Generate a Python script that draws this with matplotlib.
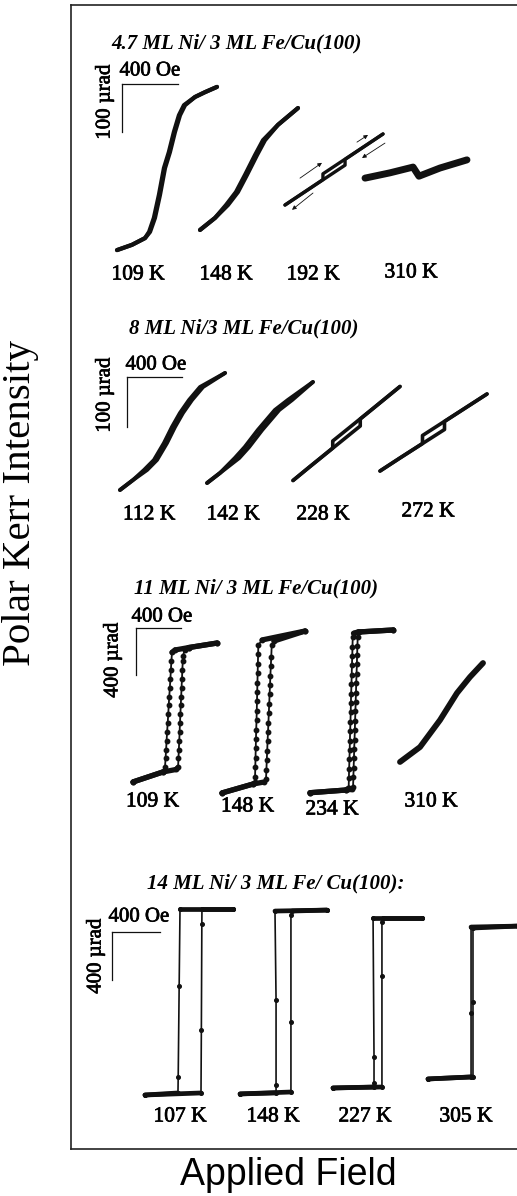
import matplotlib
matplotlib.use("Agg")
import matplotlib.pyplot as plt
import matplotlib.patheffects as pe
import numpy as np

# ------------------------------------------------------------------ data
titles = ["4.7 ML Ni/ 3 ML Fe/Cu(100)", "8 ML Ni/3 ML Fe/Cu(100)",
          "11 ML Ni/ 3 ML Fe/Cu(100)", "14 ML Ni/ 3 ML Fe/ Cu(100):"]
temps_47 = ["109 K", "148 K", "192 K", "310 K"]
temps_8 = ["112 K", "142 K", "228 K", "272 K"]
temps_11 = ["109 K", "148 K", "234 K", "310 K"]
temps_14 = ["107 K", "148 K", "227 K", "305 K"]
bar_field = [400, 400, 400, 400]      # Oe
bar_kerr = [100, 100, 400, 400]       # µrad
bar_field_lbl = ["400 Oe"] * 4
bar_kerr_lbl = ["100 µrad", "100 µrad", "400 µrad", "400 µrad"]
x_label = "Applied Field"
y_label = "Polar Kerr Intensity"

# 4.7 ML Ni  (H in Oe, Kerr in µrad; up = increasing field, dn = decreasing)
ni47_109_up_H = [-357, -250, -157, -121, -86, -50, -14, 21, 57, 93, 129, 200, 271, 357]
ni47_109_up_K = [-170, -159, -145, -132, -103, -55, 1, 34, 76, 111, 132, 149, 159, 170]
ni47_109_dn_H = [357, 271, 200, 121, 85, 49, 13, -22, -58, -94, -128, -157, -250, -357]
ni47_109_dn_K = [170, 159, 149, 132, 111, 76, 34, 1, -55, -103, -132, -145, -159, -170]
ni47_148_up_H = [-350, -243, -150, -79, -14, 57, 114, 207, 350]
ni47_148_up_K = [-127, -102, -75, -48, -12, 29, 60, 92, 127]
ni47_148_dn_H = [350, 207, 100, 43, -28, -93, -164, -243, -350]
ni47_148_dn_K = [127, 92, 60, 29, -12, -48, -75, -102, -127]
ni47_192_up_H = [-350, 79, 79, 350]
ni47_192_up_K = [-74, 9, 21, 74]
ni47_192_dn_H = [350, -79, -79, -350]
ni47_192_dn_K = [74, -9, -21, -74]
ni47_192_arrow_tail_H = [-243, -150, 164, 364]
ni47_192_arrow_tail_K = [-18, -49, 57, 55]
ni47_192_arrow_head_H = [-86, -300, 243, 200]
ni47_192_arrow_head_K = [14, -84, 72, 24]
ni47_310_H = [-364, -186, -21, 21, 171, 364]
ni47_310_K = [-19, -8, 4, -15, 2, 19]

# 8 ML Ni
ni8_112_up_H = [-382, -287, -185, -113, -40, 18, 76, 142, 222, 382]
ni8_112_up_K = [-117, -97, -77, -57, -23, 9, 37, 63, 89, 117]
ni8_112_dn_H = [382, 200, 120, 54, -4, -62, -135, -207, -287, -382]
ni8_112_dn_K = [117, 89, 63, 37, 9, -23, -57, -77, -97, -117]
ni8_142_up_H = [-385, -291, -151, -79, 16, 140, 234, 385]
ni8_142_up_K = [-101, -81, -51, -29, 5, 45, 65, 101]
ni8_142_dn_H = [385, 202, 108, -16, -111, -183, -291, -385]
ni8_142_dn_K = [101, 65, 45, 5, -29, -51, -81, -101]
ni8_228_up_H = [-389, -265, 100, 100, 193, 389]
ni8_228_up_K = [-94, -66, 15, 29, 50, 94]
ni8_228_dn_H = [389, 193, -100, -100, -265, -389]
ni8_228_dn_K = [94, 50, -15, -29, -66, -94]
ni8_272_up_H = [-389, -244, 80, 80, 389]
ni8_272_up_K = [-77, -51, 6, 22, 77]
ni8_272_dn_H = [389, -80, -80, -244, -389]
ni8_272_dn_K = [77, -6, -22, -51, -77]

# 11 ML Ni
ni11_109_up_H = [-373, -107, 9, 27, 31, 34, 38, 41, 44, 48, 51, 55, 58, 62, 65, 69, 71, 89, 124, 373]
ni11_109_up_K = [-591, -506, -485, -468, -390, -315, -240, -165, -90, -15, 60, 135, 210, 285, 360, 435, 485, 536, 553, 591]
ni11_109_dn_H = [373, 124, 0, -27, -32, -37, -41, -46, -51, -56, -60, -65, -70, -75, -79, -84, -89, -107, -373]
ni11_109_dn_K = [591, 553, 532, 511, 435, 360, 285, 210, 135, 60, -15, -90, -165, -240, -315, -390, -468, -506, -591]
ni11_148_up_H = [-369, -93, 4, 22, 26, 29, 33, 36, 40, 44, 47, 51, 54, 58, 61, 65, 69, 73, 93, 369]
ni11_148_up_K = [-689, -613, -596, -570, -490, -410, -330, -250, -170, -90, -10, 70, 150, 230, 310, 390, 470, 570, 604, 689]
ni11_148_dn_H = [369, -13, -46, -48, -50, -52, -54, -56, -58, -60, -62, -65, -67, -69, -71, -73, -75, -76, -93, -369]
ni11_148_dn_K = [689, 613, 570, 490, 410, 330, 250, 170, 90, 10, -70, -150, -230, -310, -390, -470, -550, -596, -613, -689]
ni11_234_up_H = [-371, -51, 3, 12, 15, 17, 20, 22, 25, 28, 30, 33, 35, 38, 40, 43, 46, 48, 51, 53, 65, 370]
ni11_234_up_K = [-693, -670, -665, -644, -560, -480, -400, -320, -240, -160, -80, 0, 80, 160, 240, 320, 400, 480, 560, 632, 675, 692]
ni11_234_dn_H = [370, 56, 16, 9, 7, 5, 2, 0, -2, -5, -7, -9, -11, -14, -16, -18, -20, -23, -25, -27, -51, -371]
ni11_234_dn_K = [692, 675, 664, 632, 550, 470, 390, 310, 230, 150, 70, -10, -90, -170, -250, -330, -410, -490, -570, -653, -670, -693]
ni11_310_H = [-369, -191, -13, 138, 253, 369]
ni11_310_K = [-421, -294, -64, 166, 302, 421]

# 14 ML Ni
ni14_107_up_H = [-367, 100, 103, 107, 108, 367]
ni14_107_up_K = [-775, -758, -233, 650, 775, 775]
ni14_107_dn_H = [367, -75, -82, -90, -92, -367]
ni14_107_dn_K = [775, 775, 133, -625, -758, -775]
ni14_148_up_H = [-362, 62, 62, 62, 71, 362]
ni14_148_up_K = [-766, -750, -167, 725, 758, 766]
ni14_148_dn_H = [362, -71, -62, -62, -62, -362]
ni14_148_dn_K = [766, 758, 17, -691, -758, -766]
ni14_227_up_H = [-371, 37, 37, 37, 46, 371]
ni14_227_up_K = [-708, -700, 225, 675, 708, 708]
ni14_227_dn_H = [371, -37, -29, -29, -29, -371]
ni14_227_dn_K = [708, 708, -450, -666, -700, -708]
ni14_305_up_H = [-371, 4, 4, 4, 379]
ni14_305_up_K = [-633, -616, 8, 625, 641]
ni14_305_dn_H = [379, -12, -12, -12, -371]
ni14_305_dn_K = [641, 633, -83, -616, -633]

# ------------------------------------------------------------------ layout
W, HPX, DPI = 517, 1196, 100
fig = plt.figure(figsize=(W / DPI, HPX / DPI), dpi=DPI)
fig.patch.set_facecolor("white")

SERIF = ["Liberation Serif", "DejaVu Serif"]
SANS = ["Liberation Sans", "DejaVu Sans"]
HEAVY = [pe.withStroke(linewidth=0.5, foreground="black")]
INK = "#111111"


def fx(x):
    return x / W


def fy(y):
    return 1 - y / HPX


# outer frame
frame = fig.add_axes([fx(71), fy(1149), 1.2, fy(5) - fy(1149)])
frame.set_xticks([])
frame.set_yticks([])
frame.patch.set_alpha(0)
for s in ["left", "top", "bottom"]:
    frame.spines[s].set_linewidth(1.2)
    frame.spines[s].set_color("#222222")
frame.spines["right"].set_visible(False)

fig.text(fx(21), fy(503), y_label, rotation=90, ha="center", va="center",
         fontsize=29.5, family=SERIF)
fig.text(fx(288), fy(1175), x_label, ha="center", va="center",
         fontsize=27, family=SANS)

# per-panel scales (Oe per pixel, µrad per pixel)
panel_scale = [(400 / 56, 100 / 48), (400 / 55, 100 / 50),
               (400 / 45, 400 / 47), (400 / 48, 400 / 48)]


def loop_axes(cx, cy, scale, hw=75, hh=115):
    oe, ur = scale
    ax = fig.add_axes([fx(cx - hw), fy(cy + hh), 2 * hw / W, 2 * hh / HPX])
    ax.set_xlim(-hw * oe, hw * oe)
    ax.set_ylim(-hh * ur, hh * ur)
    ax.axis("off")
    ax.patch.set_alpha(0)
    return ax


def thick_loop(ax, curves, lw=3.0):
    for Hs, Ks in curves:
        ax.plot(Hs, Ks, color=INK, lw=lw, solid_capstyle="round",
                solid_joinstyle="round", clip_on=False)


def square_loop(ax, curves, lw_thin=1.3, lw_thick=3.8, ms=3.2):
    for Hs, Ks in curves:
        ax.plot(Hs, Ks, color=INK, lw=lw_thin, marker="o", ms=ms,
                mec=INK, mfc=INK, clip_on=False)
        pts = ax.transData.transform(np.column_stack([Hs, Ks]))
        for i in range(len(Hs) - 1):
            d = pts[i + 1] - pts[i]
            if abs(d[1]) < abs(d[0]):
                ax.plot(Hs[i:i + 2], Ks[i:i + 2], color=INK, lw=lw_thick,
                        solid_capstyle="round", clip_on=False)


def scale_bar(corner, scale, i, lbl_oe_xy, lbl_ur_xy):
    ax = loop_axes(corner[0], corner[1], scale, hw=80, hh=80)
    ax.plot([0, bar_field[i]], [0, 0], color=INK, lw=0.9, clip_on=False)
    ax.plot([0, 0], [0, -bar_kerr[i]], color=INK, lw=0.9, clip_on=False)
    fig.text(fx(lbl_oe_xy[0]), fy(lbl_oe_xy[1]), bar_field_lbl[i], ha="center",
             va="center", fontsize=15, family=SERIF, path_effects=HEAVY)
    fig.text(fx(lbl_ur_xy[0]), fy(lbl_ur_xy[1]), bar_kerr_lbl[i], ha="center",
             va="center", fontsize=15, family=SERIF, rotation=90, path_effects=HEAVY)


def title(i, x, y):
    fig.text(fx(x), fy(y), titles[i], ha="center", va="center", fontsize=15,
             family=SERIF, weight="bold", style="italic")


def temp_labels(labels, xs, ys):
    for lab, x, y in zip(labels, xs, ys):
        fig.text(fx(x), fy(y), lab, ha="center", va="center", fontsize=15.5,
                 family=SERIF, path_effects=HEAVY)


# ---------------- panel 1 : 4.7 ML
sc = panel_scale[0]
title(0, 237, 43)
scale_bar((122, 84), sc, 0, (150, 71), (105, 102))
ax = loop_axes(167, 168.5, sc)
thick_loop(ax, [(ni47_109_up_H, ni47_109_up_K), (ni47_109_dn_H, ni47_109_dn_K)])
ax = loop_axes(249, 169, sc)
thick_loop(ax, [(ni47_148_up_H, ni47_148_up_K), (ni47_148_dn_H, ni47_148_dn_K)])
ax = loop_axes(334, 169.5, sc)
thick_loop(ax, [(ni47_192_up_H, ni47_192_up_K), (ni47_192_dn_H, ni47_192_dn_K)], lw=2.4)
for h0, k0, h1, k1 in zip(ni47_192_arrow_tail_H, ni47_192_arrow_tail_K,
                          ni47_192_arrow_head_H, ni47_192_arrow_head_K):
    ax.annotate("", xy=(h1, k1), xytext=(h0, k0),
                arrowprops=dict(arrowstyle="-|>", lw=0.6, color=INK,
                                mutation_scale=6, shrinkA=0, shrinkB=0))
ax = loop_axes(416, 169, sc)
thick_loop(ax, [(ni47_310_H, ni47_310_K)], lw=5.0)
temp_labels(temps_47, [138, 226, 313, 411], [275, 275, 275, 273])

# ---------------- panel 2 : 8 ML
sc = panel_scale[1]
title(1, 243.5, 328)
scale_bar((127, 377), sc, 1, (156, 365), (105, 395))
ax = loop_axes(172.5, 431.5, sc)
thick_loop(ax, [(ni8_112_up_H, ni8_112_up_K), (ni8_112_dn_H, ni8_112_dn_K)], lw=2.8)
ax = loop_axes(260, 432.5, sc)
thick_loop(ax, [(ni8_142_up_H, ni8_142_up_K), (ni8_142_dn_H, ni8_142_dn_K)], lw=2.8)
ax = loop_axes(346.5, 433.5, sc)
thick_loop(ax, [(ni8_228_up_H, ni8_228_up_K), (ni8_228_dn_H, ni8_228_dn_K)], lw=2.6)
ax = loop_axes(433.5, 432.5, sc)
thick_loop(ax, [(ni8_272_up_H, ni8_272_up_K), (ni8_272_dn_H, ni8_272_dn_K)], lw=2.6)
temp_labels(temps_8, [149, 233, 323, 428], [515, 515, 515, 512])

# ---------------- panel 3 : 11 ML
sc = panel_scale[2]
title(2, 256, 588)
scale_bar((136, 628), sc, 2, (162, 617), (113, 660))
ax = loop_axes(175, 712.5, sc)
square_loop(ax, [(ni11_109_up_H, ni11_109_up_K), (ni11_109_dn_H, ni11_109_dn_K)])
ax = loop_axes(263.5, 712, sc)
square_loop(ax, [(ni11_148_up_H, ni11_148_up_K), (ni11_148_dn_H, ni11_148_dn_K)])
ax = loop_axes(351.7, 711.3, sc)
square_loop(ax, [(ni11_234_up_H, ni11_234_up_K), (ni11_234_dn_H, ni11_234_dn_K)])
ax = loop_axes(441.5, 712.5, sc)
thick_loop(ax, [(ni11_310_H, ni11_310_K)], lw=4.2)
temp_labels(temps_11, [152.5, 247.5, 332, 431], [802, 807, 810, 802])

# ---------------- panel 4 : 14 ML
sc = panel_scale[3]
title(3, 275.5, 883)
scale_bar((112, 932), sc, 3, (139, 917), (96, 956))
for (cx, cy), up_H, up_K, dn_H, dn_K in [
        ((189, 1002), ni14_107_up_H, ni14_107_up_K, ni14_107_dn_H, ni14_107_dn_K),
        ((283.5, 1002), ni14_148_up_H, ni14_148_up_K, ni14_148_dn_H, ni14_148_dn_K),
        ((377.5, 1003), ni14_227_up_H, ni14_227_up_K, ni14_227_dn_H, ni14_227_dn_K),
        ((472.5, 1003), ni14_305_up_H, ni14_305_up_K, ni14_305_dn_H, ni14_305_dn_K)]:
    ax = loop_axes(cx, cy, sc)
    square_loop(ax, [(up_H, up_K), (dn_H, dn_K)], lw_thin=1.2, lw_thick=3.4, ms=2.6)
temp_labels(temps_14, [180, 273, 365, 466], [1117, 1117, 1117, 1117])

fig.savefig("out.png", dpi=DPI, facecolor="white")
